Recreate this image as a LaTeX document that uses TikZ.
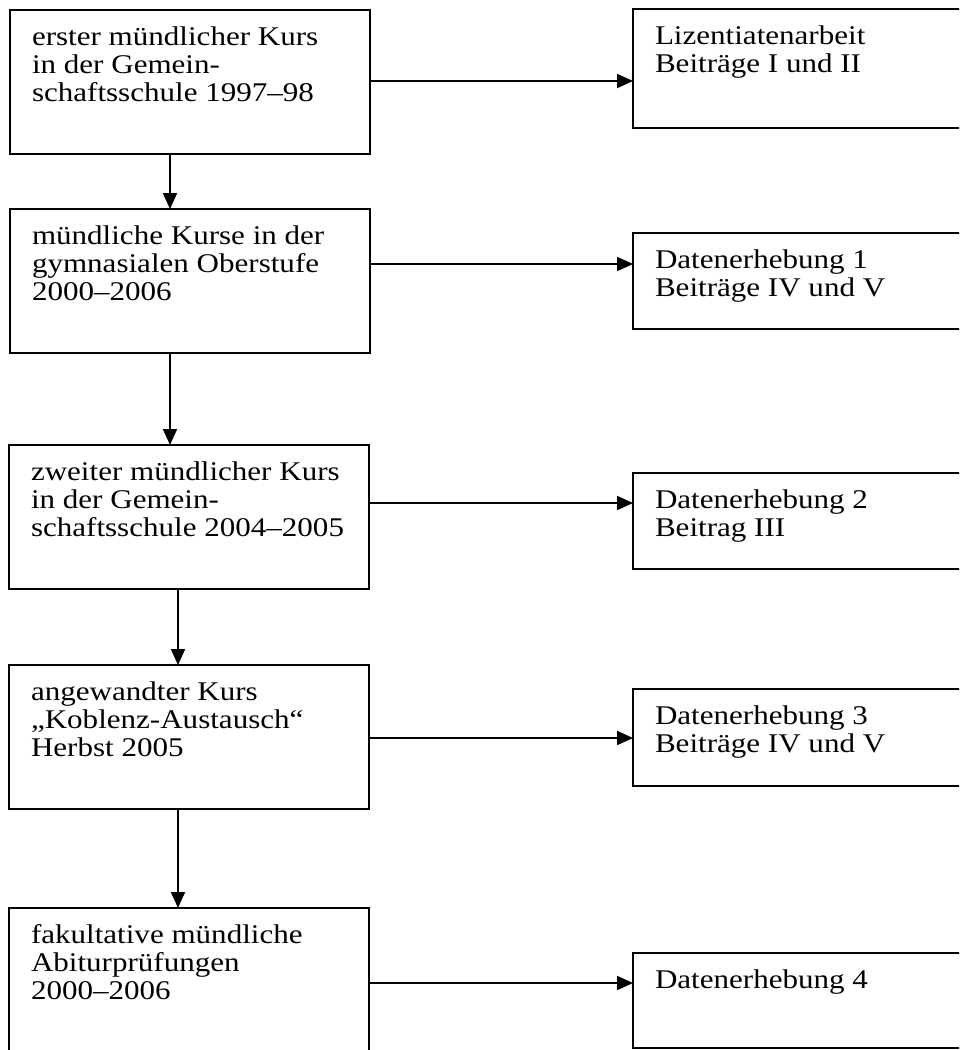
\documentclass[tikz,border=0pt]{standalone}
\usepackage{fontspec}
\setmainfont{Liberation Serif}[FakeStretch=1.15]
\usetikzlibrary{arrows.meta}
\tikzset{
  box/.style={draw, line width=2pt, anchor=north west, inner xsep=22pt, inner ysep=0pt, outer sep=0pt,
    font=\fontsize{27}{28.3}\selectfont},
  arr/.style={line width=2pt, -{Triangle[length=16pt,width=14pt]}}
}
\newcommand{\lbx}[2]{\parbox[c][#1][t]{316pt}{\raggedright\rule{0pt}{35pt}#2}}
\newcommand{\rbx}[2]{\parbox[c][#1][t]{400pt}{\raggedright\rule{0pt}{35pt}#2}}
\begin{document}
\begin{tikzpicture}[x=1pt,y=-1pt]
\clip (0,0) rectangle (959,1050);
\node[box] (B1) at (10,10) {\lbx{144pt}{erster mündlicher Kurs\\in der Gemein-\\schaftsschule 1997–98}};
\node[box] (B2) at (10,209) {\lbx{144pt}{mündliche Kurse in der\\gymnasialen Oberstufe\\2000–2006}};
\node[box] (B3) at (9,445) {\lbx{144pt}{zweiter mündlicher Kurs\\in der Gemein-\\schaftsschule 2004–2005}};
\node[box] (B4) at (9,665) {\lbx{144pt}{angewandter Kurs\\„Koblenz-Austausch“\\Herbst 2005}};
\node[box] (B5) at (9,908) {\lbx{200pt}{fakultative mündliche\\Abiturprüfungen\\2000–2006}};
\node[box] (R1) at (633,9) {\rbx{119pt}{Lizentiatenarbeit\\Beiträge I und II}};
\node[box] (R2) at (633,233) {\rbx{96pt}{Datenerhebung 1\\Beiträge IV und V}};
\node[box] (R3) at (633,473) {\rbx{96pt}{Datenerhebung 2\\Beitrag III}};
\node[box] (R4) at (633,689) {\rbx{97pt}{Datenerhebung 3\\Beiträge IV und V}};
\node[box] (R5) at (633,953) {\rbx{95pt}{Datenerhebung 4}};
\draw[arr] ([xshift=-20pt]B1.south) -- ([xshift=-20pt]B1.south |- B2.north);
\draw[arr] ([xshift=-20pt]B2.south) -- ([xshift=-20pt]B2.south |- B3.north);
\draw[arr] ([xshift=-11pt]B3.south) -- ([xshift=-11pt]B3.south |- B4.north);
\draw[arr] ([xshift=-11pt]B4.south) -- ([xshift=-11pt]B4.south |- B5.north);
\draw[arr] ([yshift=1pt]B1.east) -- ([yshift=1pt]B1.east -| R1.west);
\draw[arr] ([yshift=17pt]B2.east) -- ([yshift=17pt]B2.east -| R2.west);
\draw[arr] ([yshift=14pt]B3.east) -- ([yshift=14pt]B3.east -| R3.west);
\draw[arr] ([yshift=-1pt]B4.east) -- ([yshift=-1pt]B4.east -| R4.west);
\draw[arr] ([yshift=-75pt]B5.north east) -- ([yshift=-75pt]B5.north east -| R5.west);
\end{tikzpicture}
\end{document}
